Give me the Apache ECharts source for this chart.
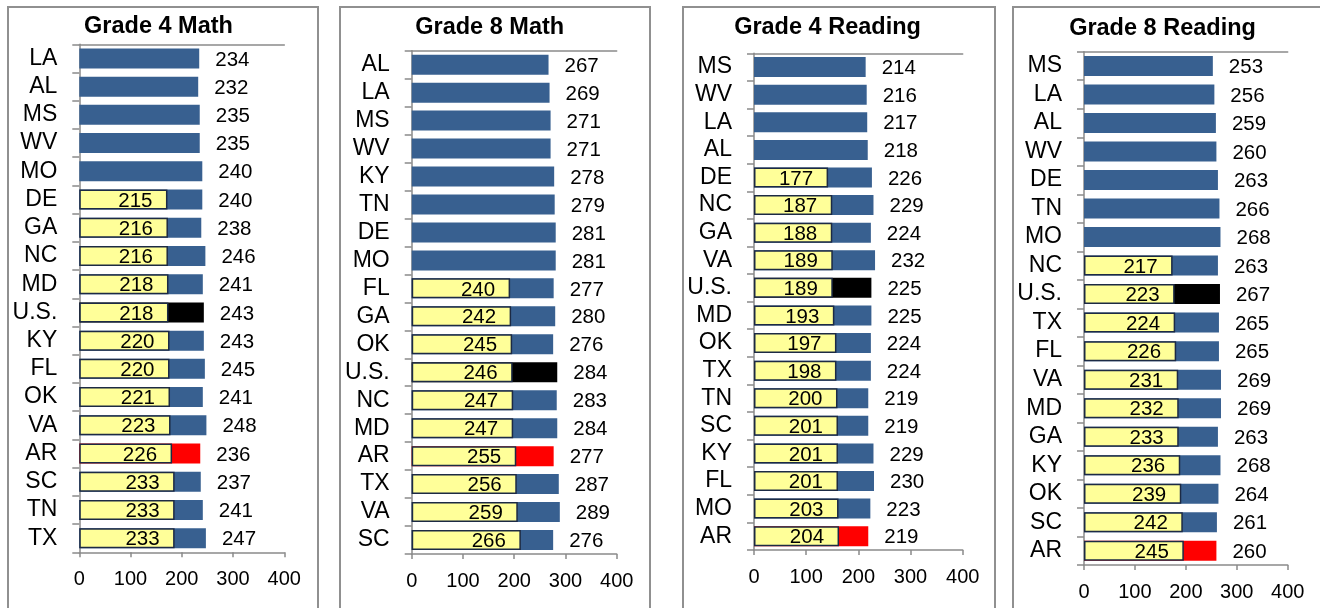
<!DOCTYPE html>
<html>
<head>
<meta charset="utf-8">
<script src="https://cdn.jsdelivr.net/npm/echarts@6/dist/echarts.min.js"></script>
<style>
  html, body { margin: 0; padding: 0; background: #fff; }
  #chart { width: 1320px; height: 608px; }
</style>
</head>
<body>
<div id="chart"></div>
<script>
  var titles = ['Grade 4 Math', 'Grade 8 Math', 'Grade 4 Reading', 'Grade 8 Reading'];
  var valueTicks = [0, 100, 200, 300, 400];

  // Grade 4 Math
  var g4mStates = ['LA', 'AL', 'MS', 'WV', 'MO', 'DE', 'GA', 'NC', 'MD', 'U.S.', 'KY', 'FL', 'OK', 'VA', 'AR', 'SC', 'TN', 'TX'];
  var g4mTotal = [234, 232, 235, 235, 240, 240, 238, 246, 241, 243, 243, 245, 241, 248, 236, 237, 241, 247];
  var g4mLow = [null, null, null, null, null, 215, 216, 216, 218, 218, 220, 220, 221, 223, 226, 233, 233, 233];
  var g4mLowBar = [null, null, null, null, null, 172, 173, 173, 174, 174, 176, 176, 177, 178, 181, 186, 186, 186];

  // Grade 8 Math
  var g8mStates = ['AL', 'LA', 'MS', 'WV', 'KY', 'TN', 'DE', 'MO', 'FL', 'GA', 'OK', 'U.S.', 'NC', 'MD', 'AR', 'TX', 'VA', 'SC'];
  var g8mTotal = [267, 269, 271, 271, 278, 279, 281, 281, 277, 280, 276, 284, 283, 284, 277, 287, 289, 276];
  var g8mLow = [null, null, null, null, null, null, null, null, 240, 242, 245, 246, 247, 247, 255, 256, 259, 266];
  var g8mLowBar = [null, null, null, null, null, null, null, null, 192, 194, 196, 197, 198, 198, 204, 205, 207, 213];

  // Grade 4 Reading
  var g4rStates = ['MS', 'WV', 'LA', 'AL', 'DE', 'NC', 'GA', 'VA', 'U.S.', 'MD', 'OK', 'TX', 'TN', 'SC', 'KY', 'FL', 'MO', 'AR'];
  var g4rTotal = [214, 216, 217, 218, 226, 229, 224, 232, 225, 225, 224, 224, 219, 219, 229, 230, 223, 219];
  var g4rLow = [null, null, null, null, 177, 187, 188, 189, 189, 193, 197, 198, 200, 201, 201, 201, 203, 204];
  var g4rLowBar = [null, null, null, null, 142, 150, 150, 151, 151, 154, 158, 158, 160, 161, 161, 161, 162, 163];

  // Grade 8 Reading
  var g8rStates = ['MS', 'LA', 'AL', 'WV', 'DE', 'TN', 'MO', 'NC', 'U.S.', 'TX', 'FL', 'VA', 'MD', 'GA', 'KY', 'OK', 'SC', 'AR'];
  var g8rTotal = [253, 256, 259, 260, 263, 266, 268, 263, 267, 265, 265, 269, 269, 263, 268, 264, 261, 260];
  var g8rLow = [null, null, null, null, null, null, null, 217, 223, 224, 226, 231, 232, 233, 236, 239, 242, 245];
  var g8rLowBar = [null, null, null, null, null, null, null, 174, 178, 179, 181, 185, 186, 186, 189, 191, 194, 196];

  var panels = [
    {states: g4mStates, total: g4mTotal, low: g4mLow, lowBar: g4mLowBar},
    {states: g8mStates, total: g8mTotal, low: g8mLow, lowBar: g8mLowBar},
    {states: g4rStates, total: g4rTotal, low: g4rLow, lowBar: g4rLowBar},
    {states: g8rStates, total: g8rTotal, low: g8rLow, lowBar: g8rLowBar}
  ];

  var grids = [
    {left: 79.3, top: 44.3, width: 205, height: 508},
    {left: 411.7, top: 50.7, width: 205, height: 503.3},
    {left: 754, top: 53.3, width: 208.7, height: 496.7},
    {left: 1084, top: 51.7, width: 203.7, height: 513.3}
  ];
  var titleX = [158.5, 489.7, 827.5, 1162.5];
  var titleY = [25, 26, 26, 26.7];
  var boxes = [[8, 310], [340, 310], [683, 312], [1013, 400]];

  var blue = '#386090';
  var axisGray = '#8a8a8a';
  var sans = 'Liberation Sans, Arial, sans-serif';

  var option = {
    backgroundColor: '#fff',
    animation: false,
    title: [],
    grid: [],
    xAxis: [],
    yAxis: [],
    series: [],
    graphic: []
  };

  panels.forEach(function (p, i) {
    option.grid.push(grids[i]);
    option.title.push({
      text: titles[i],
      left: titleX[i],
      top: titleY[i] - 10,
      textAlign: 'center',
      padding: 0,
      textStyle: {fontFamily: sans, fontSize: 23.5, fontWeight: 'bold', color: '#000'}
    });
    option.graphic.push({
      type: 'rect',
      shape: {x: boxes[i][0], y: 7, width: boxes[i][1], height: 700},
      style: {fill: null, stroke: '#909090', lineWidth: 2},
      silent: true
    });
    option.xAxis.push({
      type: 'value',
      gridIndex: i,
      min: valueTicks[0],
      max: valueTicks[valueTicks.length - 1],
      interval: 100,
      axisLine: {show: true, lineStyle: {color: axisGray, width: 1.5}},
      axisTick: {show: true, length: 5, lineStyle: {color: axisGray, width: 1.5}},
      axisLabel: {margin: 17, fontFamily: sans, fontSize: 20, color: '#000'},
      splitLine: {show: false}
    });
    // plain line along the top of the plot
    option.xAxis.push({
      type: 'value',
      gridIndex: i,
      position: 'top',
      min: 0,
      max: 400,
      axisLine: {show: true, lineStyle: {color: axisGray, width: 1.5}},
      axisTick: {show: false},
      axisLabel: {show: false},
      splitLine: {show: false}
    });
    option.yAxis.push({
      type: 'category',
      gridIndex: i,
      inverse: true,
      data: p.states,
      axisLine: {show: true, lineStyle: {color: axisGray, width: 1.5}},
      axisTick: {show: true, length: 7, interval: 0, lineStyle: {color: axisGray, width: 1.5}},
      axisLabel: {interval: 0, margin: 22, fontFamily: sans, fontSize: 23, color: '#000'}
    });
    option.series.push({
      type: 'bar',
      xAxisIndex: i * 2,
      yAxisIndex: i,
      data: p.total,
      barWidth: 20,
      barGap: '-100%',
      itemStyle: {
        color: function (params) {
          if (params.name === 'U.S.') return '#000000';
          if (params.name === 'AR') return '#ff0000';
          return blue;
        }
      },
      label: {
        show: true,
        position: 'right',
        distance: 16,
        offset: [0, 1.5],
        fontFamily: sans,
        fontSize: 20.5,
        color: '#000'
      }
    });
    option.series.push({
      type: 'bar',
      xAxisIndex: i * 2,
      yAxisIndex: i,
      data: p.lowBar,
      barWidth: 20,
      barGap: '-100%',
      z: 3,
      itemStyle: {color: '#ffff99', borderColor: '#1c2a44', borderWidth: 1.5},
      label: {
        show: true,
        position: 'insideRight',
        distance: 15,
        offset: [0, 1.5],
        fontFamily: sans,
        fontSize: 20.5,
        color: '#000',
        formatter: function (params) {
          var v = p.low[params.dataIndex];
          return v == null ? '' : String(v);
        }
      }
    });
  });

  var chart = echarts.init(document.getElementById('chart'));
  chart.setOption(option);
</script>
</body>
</html>
